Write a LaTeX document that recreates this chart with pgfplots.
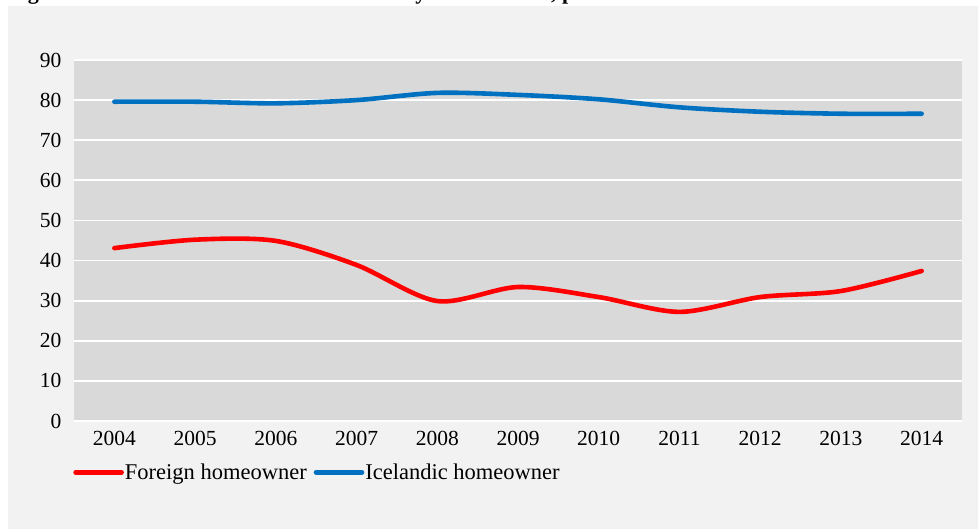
\documentclass[border=0pt]{standalone}
\usepackage{pgfplots}
\pgfplotsset{compat=1.18}
\usepackage{fontspec}
\setmainfont{Liberation Serif}
\definecolor{outerbg}{HTML}{F2F2F2}
\definecolor{plotbg}{HTML}{D9D9D9}
\definecolor{ired}{HTML}{FF0000}
\definecolor{iblue}{HTML}{0070C0}
\begin{document}
\begin{tikzpicture}[x=1pt,y=1pt]
\useasboundingbox (0,0) rectangle (978,529);
\fill[outerbg] (8,0) rectangle (978,523);
\begin{scope}
\clip (0,0) rectangle (978,529);
\node[anchor=base west,inner sep=0pt,font=\fontsize{22}{22}\selectfont\bfseries] at (8,529.5) {Figure 6. Ratio of homeowners in Iceland by owner status, percent};
\end{scope}
\begin{axis}[
  scale only axis,
  width=888pt, height=361pt,
  at={(74pt,108pt)}, anchor=south west,
  xmin=-0.5, xmax=10.5, ymin=0, ymax=90,
  xtick={0,...,10},
  xticklabels={2004,2005,2006,2007,2008,2009,2010,2011,2012,2013,2014},
  ytick={0,10,...,90},
  ymajorgrids, grid style={white, line width=1.8pt},
  axis background/.style={fill=plotbg},
  axis line style={draw=none},
  major tick style={draw=none},
  tick label style={font=\fontsize{21.5}{21.5}\selectfont},
  /pgf/number format/assume math mode=true,
  yticklabel style={xshift=-9pt},
  xticklabel style={yshift=-7pt},
  legend columns=2,
  legend style={draw=none, fill=none, at={(-0.001,-0.142)}, anchor=west,
    inner sep=0pt, font=\fontsize{22.5}{22.5}\selectfont,
    /tikz/every even column/.append style={column sep=6pt},
    nodes={inner sep=1pt}},
  legend image code/.code={\draw[#1, line cap=round] (0pt,0pt) -- (46pt,0pt);},
  every axis plot/.append style={line width=4.6pt, smooth, tension=0.5, line cap=round},
]
\addplot[ired] coordinates {(0,43.1) (1,45.2) (2,44.9) (3,38.9) (4,29.9) (5,33.4) (6,30.9) (7,27.2) (8,30.9) (9,32.4) (10,37.4)};
\addlegendentry{Foreign homeowner}
\addplot[iblue] coordinates {(0,79.6) (1,79.6) (2,79.2) (3,80.0) (4,81.8) (5,81.3) (6,80.2) (7,78.2) (8,77.1) (9,76.6) (10,76.6)};
\addlegendentry{Icelandic homeowner}
\end{axis}
\end{tikzpicture}
\end{document}
